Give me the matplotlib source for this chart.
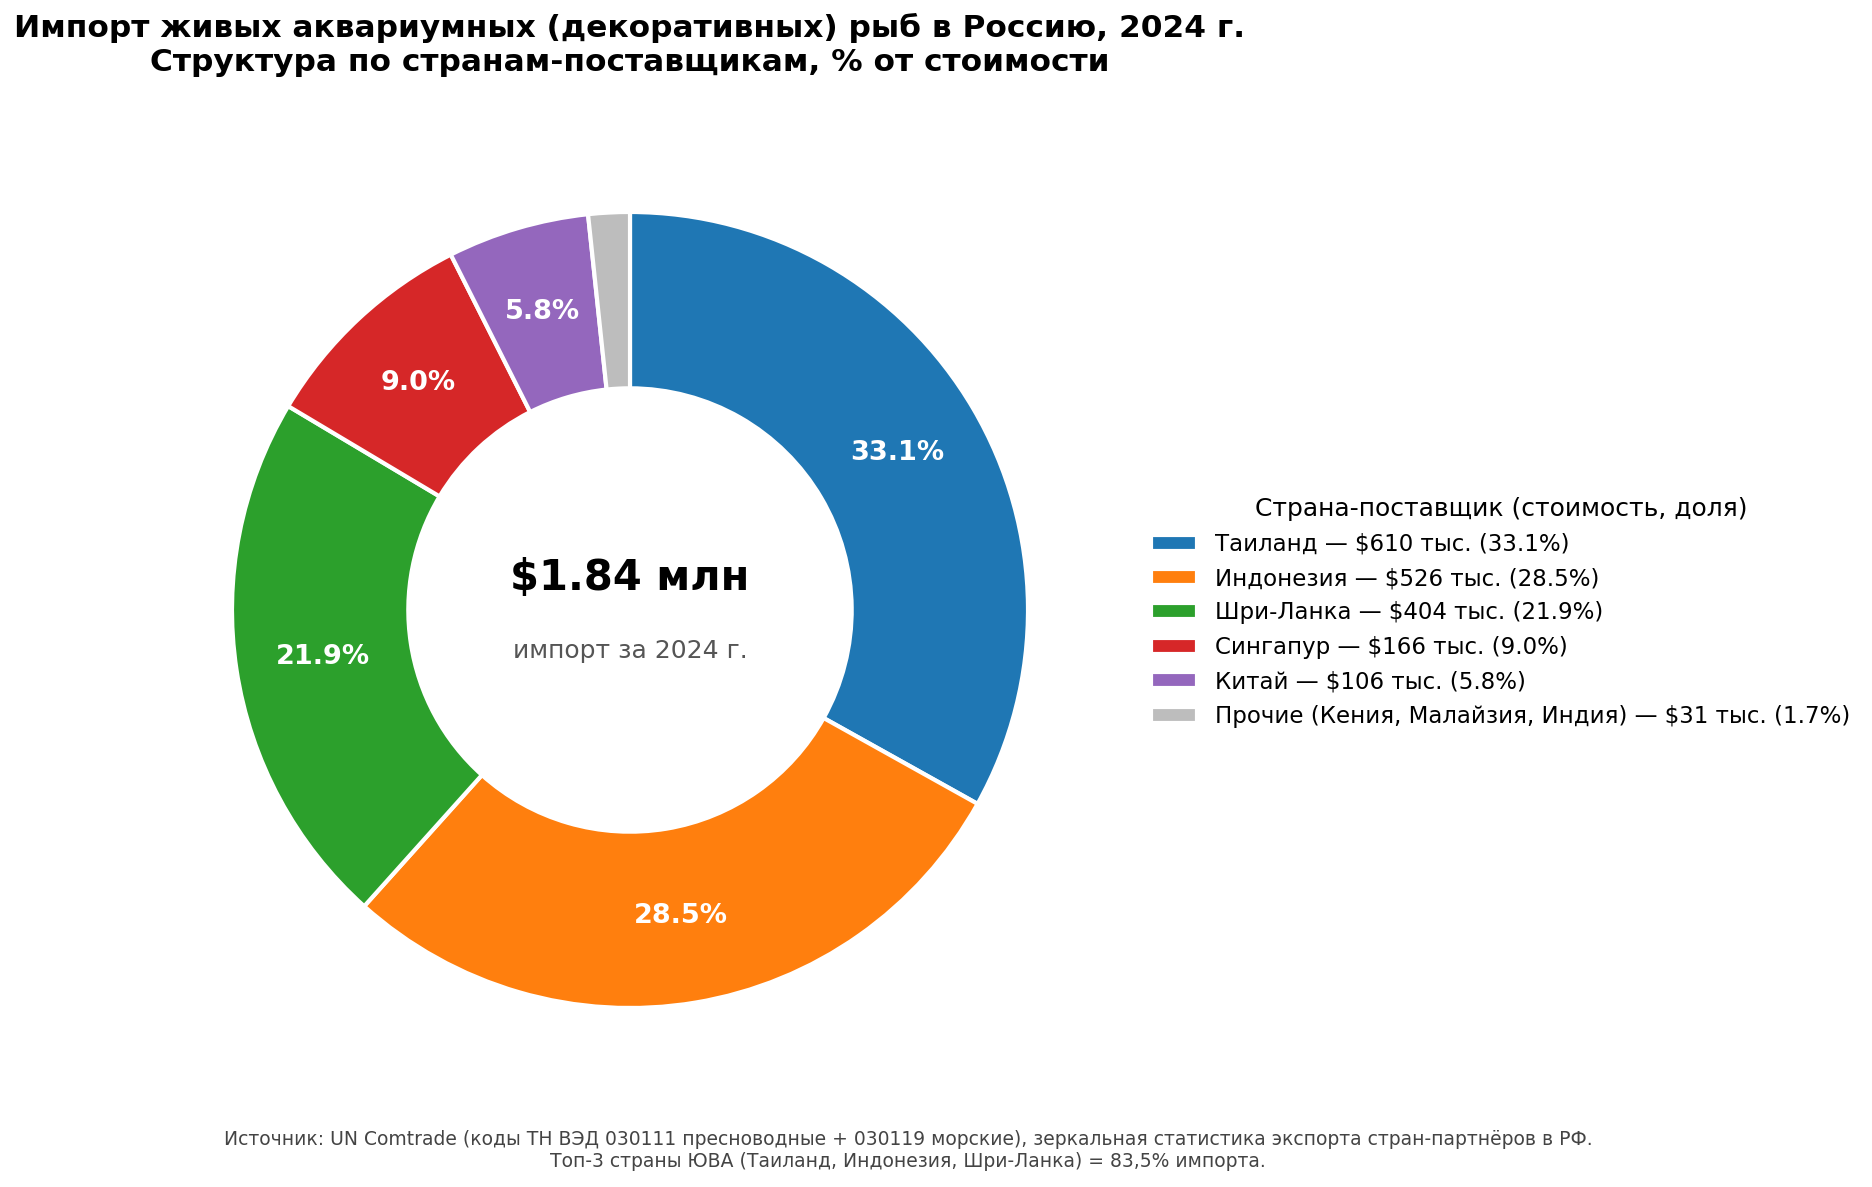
import matplotlib
matplotlib.use('Agg')
import matplotlib.pyplot as plt

# Data (thousand USD, 2024)
countries = ['Таиланд', 'Индонезия', 'Шри-Ланка', 'Сингапур', 'Китай',
             'Прочие (Кения, Малайзия, Индия)']
values = [610, 526, 404, 166, 106, 31]
colors = ['#1f77b4', '#ff7f0e', '#2ca02c', '#d62728', '#9467bd', '#bdbdbd']

total = sum(values)
shares = [v / total * 100 for v in values]
labels = [f'{c} — ${v} тыс. ({s:.1f}%)' for c, v, s in zip(countries, values, shares)]

DPI = 150
fig = plt.figure(figsize=(1872 / DPI, 1187 / DPI), dpi=DPI)

# pie axes: centre ~ (630, 610) px, outer radius ~398 px
cx, cy, r = 630 / 1872, 1 - 610 / 1187, 398
w, h = 2 * r / 1872, 2 * r / 1187
ax = fig.add_axes([cx - w / 2, cy - h / 2, w, h])

def pct(p):
    return f'{p:.1f}%' if p >= 3 else ''

wedges, texts, autotexts = ax.pie(
    values, colors=colors, startangle=90, counterclock=False,
    autopct=pct, pctdistance=0.78,
    wedgeprops=dict(width=0.443, edgecolor='white', linewidth=2))
for t in autotexts:
    t.set_color('white')
    t.set_fontsize(13)
    t.set_fontweight('bold')
ax.set_xlim(-1, 1)
ax.set_ylim(-1, 1)
ax.set_aspect('equal')

# centre caption
ax.text(0, 0.08, f'${total / 1000:.2f} млн', ha='center', va='center',
        fontsize=20, fontweight='bold')
ax.text(0, -0.103, 'импорт за 2024 г.', ha='center', va='center',
        fontsize=12, color='#555555')

fig.text(cx, 0.962, 'Импорт живых аквариумных (декоративных) рыб в Россию, 2024 г.\n'
         'Структура по странам-поставщикам, % от стоимости',
         ha='center', va='center', fontsize=15, fontweight='bold')

fig.legend(wedges, labels, title='Страна-поставщик (стоимость, доля)',
           loc='center left', bbox_to_anchor=(0.604, 0.484), frameon=False,
           fontsize=11, title_fontsize=12)

fig.text(0.485, 0.0305,
         'Источник: UN Comtrade (коды ТН ВЭД 030111 пресноводные + 030119 морские), '
         'зеркальная статистика экспорта стран-партнёров в РФ.\n'
         'Топ-3 страны ЮВА (Таиланд, Индонезия, Шри-Ланка) = 83,5% импорта.',
         ha='center', va='center', fontsize=9, color='#444444')

fig.savefig('out.png', dpi=DPI)
